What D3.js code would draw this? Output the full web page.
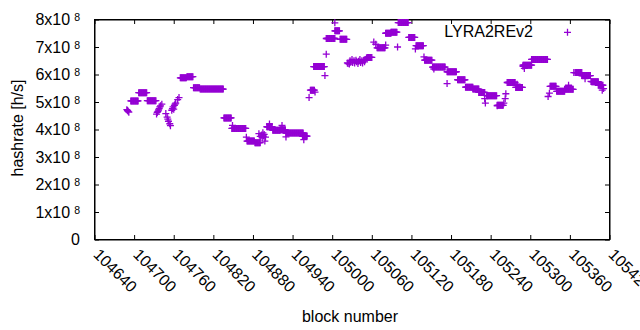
<!DOCTYPE html>
<html>
<head>
<meta charset="utf-8">
<script src="https://cdn.jsdelivr.net/npm/d3@7"></script>
<style>
body { margin: 0; background: #fff; }
text { font-family: "Liberation Sans", Arial, sans-serif; fill: #000; }
</style>
</head>
<body>
<svg id="chart" width="640" height="330"></svg>
<script>
// runs of blocks with the same hashrate (single blocks have from == to)
var blockFrom = [104689,104690,104691,104692,104695,104707,104720,104734,104735,104736,104737,104738,104739,104740,104742,
  104748,104750,104751,104752,104754,104755,104757,104758,104759,104760,104761,104762,104763,104766,104768,
  104770,104780,104790,104800,104836,104848,104849,104870,104871,104883,104889,104891,104893,104894,104895,104896,104897,104898,104899,
  104901,104905,104910,104921,104924,104930,104930,104957,104955,104965,104967,104974,104972,104989,104991,104991,105004,105004,105012,
  105023,105024,105026,105027,105028,105030,105031,105033,105034,105036,105037,105039,105040,105042,105043,105045,105046,105048,105049,105050,105052,105053,
  105063,105066,105068,105081,105081,105089,105099,105100,105116,105126,105127,105139,105140,105152,105154,105174,105174,105190,105202,105213,105222,
  105231,105232,105234,105250,105250,105260,105262,105263,105265,105278,105280,105289,105291,105289,105302,105327,105329,105330,105340,105352,105358,
  105366,105368,105378,105383,105392,105393,105403,105409,105411];
var blockTo = [104689,104690,104691,104692,104706,104719,104733,104734,104735,104736,104737,104738,104739,104740,104742,
  104748,104750,104751,104752,104754,104755,104757,104758,104759,104760,104761,104762,104763,104766,104768,
  104779,104789,104799,104835,104847,104869,104849,104870,104882,104891,104889,104891,104893,104894,104895,104896,104897,104898,104899,
  104909,104905,104921,104929,104924,104930,104956,104957,104962,104965,104973,104974,104988,104989,104991,105004,105004,105011,105022,
  105023,105024,105026,105027,105028,105030,105031,105033,105034,105036,105037,105039,105040,105042,105043,105045,105046,105048,105049,105050,105052,105060,
  105063,105066,105080,105081,105089,105098,105099,105115,105125,105126,105138,105139,105151,105171,105154,105174,105188,105201,105213,105222,105231,
  105231,105232,105249,105250,105259,105260,105262,105263,105277,105288,105280,105289,105291,105302,105326,105327,105329,105339,105352,105365,105358,
  105366,105378,105391,105383,105392,105403,105410,105409,105411];
var hashrate = [4.72e8,4.69e8,4.66e8,4.63e8,5.04e8,5.34e8,5.05e8,4.56e8,4.62e8,4.66e8,4.71e8,4.76e8,4.82e8,4.86e8,4.92e8,
  4.58e8,4.45e8,4.38e8,4.30e8,4.21e8,4.14e8,4.70e8,4.76e8,4.82e8,4.74e8,4.88e8,4.92e8,4.96e8,5.09e8,5.16e8,
  5.88e8,5.92e8,5.52e8,5.47e8,4.42e8,4.04e8,4.15e8,3.72e8,3.58e8,3.52e8,3.85e8,3.75e8,3.80e8,3.70e8,3.88e8,3.76e8,3.82e8,3.58e8,3.72e8,
  4.10e8,4.20e8,3.97e8,3.99e8,4.15e8,3.73e8,3.87e8,3.63e8,3.76e8,5.16e8,5.43e8,5.36e8,6.29e8,5.96e8,6.74e8,7.31e8,7.88e8,7.59e8,7.28e8,
  6.42e8,6.40e8,6.38e8,6.50e8,6.45e8,6.55e8,6.44e8,6.50e8,6.42e8,6.52e8,6.46e8,6.40e8,6.48e8,6.55e8,6.44e8,6.50e8,6.42e8,6.52e8,6.46e8,6.55e8,6.60e8,6.62e8,
  7.18e8,7.10e8,6.97e8,7.07e8,7.50e8,7.54e8,7.00e8,7.89e8,7.35e8,6.93e8,7.05e8,6.64e8,6.52e8,6.27e8,6.20e8,5.67e8,6.10e8,5.81e8,5.54e8,5.47e8,5.35e8,
  5.12e8,4.96e8,5.23e8,4.86e8,4.88e8,4.96e8,5.12e8,5.30e8,5.71e8,5.53e8,5.65e8,6.30e8,6.22e8,6.34e8,6.55e8,5.20e8,5.32e8,5.57e8,5.39e8,5.46e8,5.61e8,
  6.07e8,6.07e8,5.96e8,5.85e8,5.75e8,5.74e8,5.61e8,5.43e8,5.49e8];

var xTicks = [104640,104700,104760,104820,104880,104940,105000,105060,105120,105180,105240,105300,105360,105420];
var yTicks = [0,1e8,2e8,3e8,4e8,5e8,6e8,7e8,8e8];
var seriesName = "LYRA2REv2";
var color = "#9400d3";

var points = [];
for (var i = 0; i < blockFrom.length; i++) {
    for (var b = blockFrom[i]; b <= blockTo[i]; b++) {
        points.push({block: b, rate: hashrate[i]});
    }
}

var svg = d3.select("#chart");
var pLeft = 94.5, pRight = 609.5, pTop = 19.5, pBottom = 239.5;
var x = d3.scaleLinear().domain([104640, 105420]).range([pLeft, pRight]);
var y = d3.scaleLinear().domain([0, 8e8]).range([pBottom, pTop]);

var plus = "M-3.5,0H3.5M0,-3.5V3.5";

// axes, ticks pointing inwards, mirrored on top / right
var xa = svg.append("g").attr("transform", "translate(0," + pBottom + ")")
    .call(d3.axisBottom(x).tickValues(xTicks).tickSizeInner(-4.5).tickSizeOuter(0).tickFormat(d3.format("d")));
svg.append("g").attr("transform", "translate(0," + pTop + ")")
    .call(d3.axisTop(x).tickValues(xTicks).tickSizeInner(-4.5).tickSizeOuter(0).tickFormat(""));
svg.append("g").attr("transform", "translate(" + pLeft + ",0)")
    .call(d3.axisLeft(y).tickValues(yTicks).tickSizeInner(-4.5).tickSizeOuter(0).tickFormat(""));
svg.append("g").attr("transform", "translate(" + pRight + ",0)")
    .call(d3.axisRight(y).tickValues(yTicks).tickSizeInner(-4.5).tickSizeOuter(0).tickFormat(""));
svg.selectAll(".domain, .tick line").attr("stroke", "#000").attr("stroke-width", 1);
svg.selectAll(".tick text").attr("font-family", null);

xa.selectAll(".tick text")
    .attr("font-size", 16)
    .attr("x", 0).attr("y", 0).attr("dy", "0.35em")
    .attr("text-anchor", "start")
    .attr("transform", "translate(1.5,12) rotate(45)");

// y tick labels like 5x10^8
yTicks.forEach(function (v) {
    var t = svg.append("text").attr("x", 80).attr("y", y(v) + 5.5)
        .attr("text-anchor", "end").attr("font-size", 16);
    if (v == 0) {
        t.text("0");
    } else {
        var e = Math.floor(Math.log10(v));
        t.append("tspan").text(Math.round(v / Math.pow(10, e)) + "x10");
        t.append("tspan").attr("dx", 4).attr("dy", -4).attr("font-size", 10.5).text(e);
    }
});

svg.append("rect").attr("x", pLeft).attr("y", pTop).attr("width", pRight - pLeft).attr("height", pBottom - pTop)
    .attr("fill", "none").attr("stroke", "#000");

svg.append("g").selectAll("path")
    .data(points)
    .enter()
    .append("path")
    .attr("d", plus)
    .attr("transform", (d) => "translate(" + x(d.block) + "," + y(d.rate) + ")")
    .attr("stroke", color)
    .attr("stroke-width", 1.3)
    .attr("fill", "none");

// key
svg.append("text").attr("x", 533).attr("y", 37.3).attr("text-anchor", "end").attr("font-size", 16).text(seriesName);
svg.append("path").attr("d", plus).attr("transform", "translate(567.5,32.3)")
    .attr("stroke", color).attr("stroke-width", 1.3).attr("fill", "none");

svg.append("text").attr("x", 350).attr("y", 321.5).attr("text-anchor", "middle").attr("font-size", 16).text("block number");
svg.append("text").attr("transform", "translate(22.7,128) rotate(-90)").attr("text-anchor", "middle")
    .attr("font-size", 16).text("hashrate [h/s]");
</script>
</body>
</html>
